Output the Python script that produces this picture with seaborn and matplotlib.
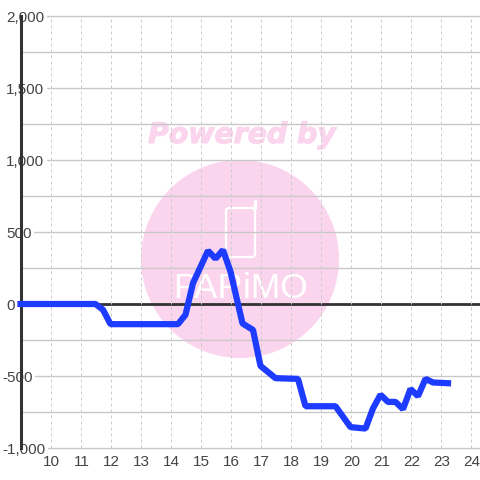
import pandas as pd
import matplotlib.pyplot as plt
import matplotlib.patheffects as pe
import matplotlib.transforms as mtrans
from matplotlib.patches import Circle, FancyBboxPatch
from matplotlib.ticker import MultipleLocator
import seaborn as sns

hours = [9, 11.5, 11.75, 12, 14.25, 14.5, 14.75, 15.25, 15.5, 15.75, 16, 16.4, 16.75, 17,
         17.5, 18.25, 18.5, 19.5, 20, 20.5, 20.75, 21, 21.25, 21.5, 21.75, 22, 22.25, 22.5,
         22.75, 23.25]
values = [0, 0, -40, -140, -140, -75, 145, 370, 315, 375, 225, -135, -180, -430,
          -515, -520, -710, -710, -855, -865, -725, -630, -680, -680, -730, -590, -640, -520,
          -545, -550]
x_ticks = list(range(10, 25))
y_ticks = [-1000, -500, 0, 500, 1000, 1500, 2000]

sns.set_style('whitegrid')
plt.rcParams['font.family'] = ['Liberation Sans', 'DejaVu Sans']

fig = plt.figure(figsize=(4.8, 4.8), dpi=100)

# watermark sits behind the chart, drawn in pixel coords
bg = fig.add_axes([0, 0, 1, 1], zorder=0)
bg.set_xlim(0, 480)
bg.set_ylim(480, 0)
bg.axis('off')
pink = '#fbd5ee'
bg.add_patch(Circle((240, 259), 99, color=pink, lw=0))
bg.text(242, 135, 'Powered by', color=pink, fontsize=20.4, fontweight='bold',
        style='italic', ha='center', va='center', family='DejaVu Sans',
        path_effects=[pe.withStroke(linewidth=0.8, foreground=pink)])
bg.add_patch(FancyBboxPatch((226, 208), 29, 49, boxstyle='round,pad=0,rounding_size=3',
                            fc='none', ec='white', lw=1.6))
bg.plot([255, 255], [208, 201], color='white', lw=2.4, solid_capstyle='round')
bg.text(240, 289, 'PARiMO', color='white', fontsize=25.5, ha='center', va='center')

ax = fig.add_axes([20.5 / 480, 32 / 480, 459.5 / 480, 432 / 480], zorder=1)
ax.patch.set_alpha(0)

df = pd.DataFrame({'hour': hours, 'value': values})
line = sns.lineplot(data=df, x='hour', y='value', ax=ax, color='#1e3cff', linewidth=4.5,
                    errorbar=None, estimator=None, sort=False, zorder=5, clip_on=False)
line.lines[0].set_solid_capstyle('projecting')
line.lines[0].set_solid_joinstyle('bevel')

ax.set_xlim(9, 9 + 459.5 / 30)
ax.set_ylim(-1000, 2000)
ax.set_xlabel('')
ax.set_ylabel('')
ax.set_xticks(x_ticks)
ax.set_yticks(y_ticks)
ax.set_yticklabels([f'{v:,}' for v in y_ticks])
ax.yaxis.set_minor_locator(MultipleLocator(250))

ax.grid(False)
ax.grid(axis='y', which='both', color='#c8c8c8', linewidth=1.0, clip_on=False)
ax.grid(axis='x', which='major', color='#cccccc', linewidth=0.72, linestyle=(0, (3, 3)))
ax.set_axisbelow(True)
ax.xaxis.set_zorder(3)
ax.axhline(0, color='#333333', linewidth=2.0, zorder=3)

for side in ['top', 'right', 'bottom']:
    ax.spines[side].set_visible(False)
ax.spines['left'].set_color('#333333')
ax.spines['left'].set_linewidth(2.2)

ax.tick_params(axis='both', which='both', length=0)
ax.tick_params(axis='x', labelsize=11, labelcolor='#444444', pad=5)
ax.tick_params(axis='y', labelsize=11, labelcolor='#444444', pad=10.4)

# y labels are left aligned with a white box hiding the axis behind them
for lab, v in zip(ax.get_yticklabels(), y_ticks):
    lab.set_ha('left')
    lab.set_bbox(dict(facecolor='white', edgecolor='none', pad=2))
    shift = -4 if v < 0 else 0
    lab.set_transform(lab.get_transform() + mtrans.Affine2D().translate(shift, -1))
for lab in ax.get_xticklabels():
    lab.set_transform(lab.get_transform() + mtrans.Affine2D().translate(1, 0))

fig.savefig('out.png', dpi=100)
